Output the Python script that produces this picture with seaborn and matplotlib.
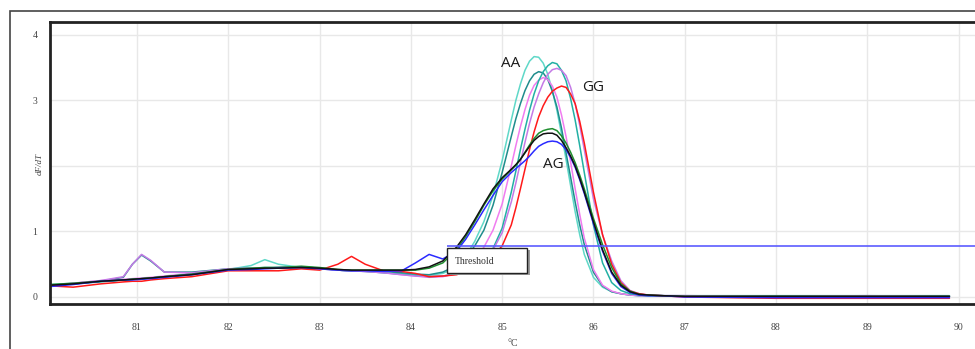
import matplotlib
matplotlib.use("Agg")
import matplotlib.pyplot as plt
from matplotlib.patches import Rectangle
import seaborn as sns
import pandas as pd

# temperature grid shared by all melt curves (deg C)
temps = [80.05, 80.3, 80.6, 80.85, 80.95, 81.05, 81.15, 81.3, 81.6, 82.0,
         82.25, 82.4, 82.55, 82.8, 83.0, 83.2, 83.35, 83.5, 83.7, 83.9,
         84.05, 84.2, 84.35, 84.5, 84.6, 84.7, 84.8, 84.9, 85.0, 85.1,
         85.2, 85.3, 85.4, 85.5, 85.6, 85.7, 85.8, 85.9, 86.0, 86.1,
         86.2, 86.3, 86.4, 86.5, 86.6, 86.75, 87.0, 88.0, 89.0, 89.9]
# extra readings around the melt peaks
temps_peak = [85.15, 85.25, 85.35, 85.45, 85.55, 85.65, 85.75, 85.85]

# -dF/dT values
aa_turquoise = [0.19, 0.21, 0.24, 0.26, 0.27, 0.28, 0.29, 0.31, 0.35, 0.42,
                0.48, 0.57, 0.50, 0.45, 0.43, 0.41, 0.40, 0.40, 0.38, 0.36,
                0.34, 0.33, 0.36, 0.45, 0.62, 0.85, 1.15, 1.55, 2.08, 2.70,
                3.25, 3.60, 3.66, 3.40, 2.85, 2.10, 1.30, 0.65, 0.30, 0.15,
                0.08, 0.05, 0.03, 0.02, 0.02, 0.02, 0.01, 0.01, 0.01, 0.01]
aa_turquoise_peak = [3.00, 3.46, 3.67, 3.57, 3.15, 2.49, 1.70, 0.95]
aa_teal = [0.18, 0.20, 0.24, 0.30, 0.50, 0.64, 0.55, 0.38, 0.38, 0.43,
           0.44, 0.44, 0.45, 0.46, 0.44, 0.41, 0.40, 0.40, 0.39, 0.37,
           0.35, 0.34, 0.38, 0.48, 0.60, 0.78, 1.02, 1.40, 1.90, 2.45,
           2.95, 3.30, 3.44, 3.32, 2.90, 2.20, 1.45, 0.80, 0.38, 0.17,
           0.08, 0.05, 0.03, 0.02, 0.02, 0.02, 0.01, 0.01, 0.01, 0.01]
aa_teal_peak = [2.72, 3.15, 3.40, 3.42, 3.14, 2.58, 1.83, 1.10]
aa_violet = [0.17, 0.21, 0.25, 0.27, 0.28, 0.29, 0.30, 0.32, 0.36, 0.42,
             0.43, 0.44, 0.44, 0.45, 0.43, 0.41, 0.40, 0.39, 0.37, 0.34,
             0.32, 0.30, 0.31, 0.36, 0.45, 0.58, 0.76, 1.02, 1.42, 2.00,
             2.60, 3.08, 3.31, 3.32, 3.05, 2.45, 1.65, 0.90, 0.42, 0.18,
             0.09, 0.05, 0.03, 0.02, 0.02, 0.02, 0.02, 0.01, 0.01, 0.01]
aa_violet_peak = [2.31, 2.86, 3.23, 3.35, 3.22, 2.78, 2.06, 1.26]
gg_seagreen = [0.18, 0.20, 0.23, 0.26, 0.27, 0.28, 0.29, 0.31, 0.35, 0.42,
               0.44, 0.45, 0.45, 0.46, 0.44, 0.41, 0.40, 0.39, 0.37, 0.35,
               0.33, 0.31, 0.32, 0.36, 0.42, 0.50, 0.62, 0.74, 1.05, 1.60,
               2.25, 2.85, 3.30, 3.53, 3.56, 3.30, 2.70, 1.90, 1.10, 0.52,
               0.22, 0.10, 0.05, 0.03, 0.02, 0.02, 0.02, 0.02, 0.02, 0.02]
gg_seagreen_peak = [1.92, 2.56, 3.10, 3.44, 3.58, 3.46, 3.03, 2.31]
gg_orchid = [0.17, 0.21, 0.25, 0.31, 0.50, 0.65, 0.56, 0.38, 0.37, 0.43,
             0.44, 0.44, 0.45, 0.46, 0.44, 0.41, 0.40, 0.39, 0.37, 0.34,
             0.32, 0.31, 0.32, 0.35, 0.40, 0.47, 0.58, 0.72, 0.98, 1.45,
             2.05, 2.65, 3.10, 3.40, 3.49, 3.38, 2.95, 2.25, 1.50, 0.95,
             0.55, 0.25, 0.10, 0.05, 0.03, 0.02, 0.02, 0.01, 0.02, 0.01]
gg_orchid_peak = [1.74, 2.36, 2.90, 3.27, 3.47, 3.46, 3.20, 2.62]
gg_red = [0.17, 0.15, 0.20, 0.23, 0.24, 0.24, 0.26, 0.28, 0.31, 0.40,
          0.40, 0.40, 0.40, 0.43, 0.41, 0.50, 0.62, 0.50, 0.40, 0.39,
          0.36, 0.31, 0.32, 0.34, 0.38, 0.44, 0.52, 0.62, 0.78, 1.10,
          1.65, 2.25, 2.75, 3.05, 3.19, 3.20, 2.95, 2.35, 1.60, 0.95,
          0.50, 0.22, 0.09, 0.05, 0.03, 0.02, 0.00, -0.02, -0.02, -0.02]
gg_red_peak = [1.36, 1.95, 2.52, 2.92, 3.14, 3.22, 3.10, 2.68]
ag_green = [0.19, 0.21, 0.24, 0.26, 0.27, 0.28, 0.29, 0.31, 0.35, 0.42,
            0.44, 0.45, 0.45, 0.47, 0.45, 0.42, 0.41, 0.41, 0.41, 0.41,
            0.41, 0.44, 0.52, 0.72, 0.92, 1.15, 1.40, 1.62, 1.80, 1.94,
            2.10, 2.32, 2.50, 2.56, 2.54, 2.35, 2.05, 1.65, 1.20, 0.80,
            0.45, 0.20, 0.09, 0.04, 0.03, 0.02, 0.01, 0.01, 0.01, 0.01]
ag_green_peak = [2.01, 2.21, 2.42, 2.54, 2.57, 2.46, 2.21, 1.86]
ag_black = [0.18, 0.20, 0.24, 0.26, 0.27, 0.28, 0.29, 0.31, 0.34, 0.42,
            0.43, 0.44, 0.44, 0.45, 0.44, 0.42, 0.41, 0.41, 0.41, 0.41,
            0.42, 0.46, 0.55, 0.76, 0.95, 1.18, 1.42, 1.65, 1.82, 1.95,
            2.10, 2.30, 2.45, 2.50, 2.47, 2.28, 2.00, 1.60, 1.15, 0.72,
            0.38, 0.18, 0.08, 0.04, 0.03, 0.02, 0.01, 0.01, 0.01, 0.01]
ag_black_peak = [2.02, 2.20, 2.39, 2.49, 2.50, 2.39, 2.15, 1.81]
ag_blue = [0.16, 0.19, 0.24, 0.26, 0.26, 0.27, 0.28, 0.30, 0.34, 0.41,
           0.42, 0.43, 0.44, 0.45, 0.43, 0.41, 0.40, 0.40, 0.39, 0.40,
           0.52, 0.65, 0.58, 0.70, 0.88, 1.10, 1.33, 1.55, 1.76, 1.90,
           2.02, 2.15, 2.30, 2.37, 2.37, 2.25, 1.98, 1.58, 1.12, 0.70,
           0.36, 0.16, 0.07, 0.03, 0.02, 0.02, 0.00, -0.01, -0.01, -0.01]
ag_blue_peak = [1.96, 2.08, 2.23, 2.34, 2.38, 2.33, 2.13, 1.79]

samples = {
    "AA turquoise": (aa_turquoise, aa_turquoise_peak, "#5fd8c8"),
    "AA teal": (aa_teal, aa_teal_peak, "#1f8c8c"),
    "AA violet": (aa_violet, aa_violet_peak, "#f07cf0"),
    "GG seagreen": (gg_seagreen, gg_seagreen_peak, "#22b0a4"),
    "GG orchid": (gg_orchid, gg_orchid_peak, "#c47ae6"),
    "GG red": (gg_red, gg_red_peak, "#ff1a1a"),
    "AG green": (ag_green, ag_green_peak, "#1f8f2f"),
    "AG blue": (ag_blue, ag_blue_peak, "#2a2aff"),
    "AG black": (ag_black, ag_black_peak, "#111111"),
}

threshold = 0.78
genotype_labels = ["AA", "GG", "AG"]
label_pos = [(85.09, 3.565), (86.0, 3.2), (85.56, 2.03)]

# long format for seaborn
frames = []
for name, (vals, peak_vals, _) in samples.items():
    part = pd.DataFrame({"temp": temps + temps_peak,
                         "dfdt": vals + peak_vals, "sample": name})
    frames.append(part.sort_values("temp"))
df = pd.concat(frames, ignore_index=True)
palette = {name: col for name, (_, _, col) in samples.items()}

sns.set_style("white")
plt.rcParams["font.family"] = ["Liberation Serif", "DejaVu Serif"]

fig = plt.figure(figsize=(9.75, 3.49), dpi=100)
ax = fig.add_axes([50 / 975, 1 - 304 / 349, 925 / 975, 282 / 349])

sns.lineplot(data=df, x="temp", y="dfdt", hue="sample", palette=palette,
             estimator=None, sort=True, lw=1.1, legend=False, ax=ax)

ax.set_xlim(80.047, 90.18)
ax.set_ylim(-0.107, 4.198)
ax.set_xticks(range(81, 91))
ax.set_yticks([0, 1, 3, 4])
ax.grid(True, color="#e8e8e8", lw=1.0)
ax.axhline(2, color="#e8e8e8", lw=1.0, zorder=0)
ax.set_axisbelow(True)
ax.tick_params(axis="x", length=4, width=0.8, color="#666", pad=10,
               labelsize=7, labelcolor="#444")
ax.tick_params(axis="y", length=5, width=0.8, color="#666", pad=4,
               labelsize=7, labelcolor="#444")
ax.set_xlabel("")
ax.set_ylabel("")
for side in ["left", "bottom", "top"]:
    ax.spines[side].set_color("#222")
    ax.spines[side].set_linewidth(2)
ax.spines["right"].set_visible(False)

# threshold line and its box
ax.hlines(threshold, 84.4, 90.3, color="#5c5cff", lw=1.2, zorder=5)
ax.add_patch(Rectangle((84.43, 0.34), 0.87, 0.38, facecolor="#9a9a9a",
                       edgecolor="none", zorder=6))
ax.add_patch(Rectangle((84.4, 0.37), 0.87, 0.38, facecolor="white",
                       edgecolor="#222", lw=1.0, zorder=7))
ax.text(84.48, 0.545, "Threshold", fontsize=7, color="#333",
        va="center", ha="left", zorder=8)

for lab, (tx, ty) in zip(genotype_labels, label_pos):
    ax.text(tx, ty, lab, fontsize=11, family=["Open Sans", "DejaVu Sans"],
            color="#1a1a1a", ha="center", va="center", zorder=9)

ax.text(-0.011, 0.497, "dF/dT", transform=ax.transAxes, rotation=90,
        fontsize=6.5, style="italic", color="#444", ha="center", va="center")
fig.text(513 / 975, 1 - 343 / 349, "°C", fontsize=7, color="#444",
         ha="center", va="center")

# outer frame of the original panel
fig.patches.append(Rectangle((10 / 975, -0.2), 1.2, 1.2 - 11 / 349,
                             transform=fig.transFigure, fill=False,
                             edgecolor="#444", lw=1.2))

fig.savefig("out.png", dpi=100)
